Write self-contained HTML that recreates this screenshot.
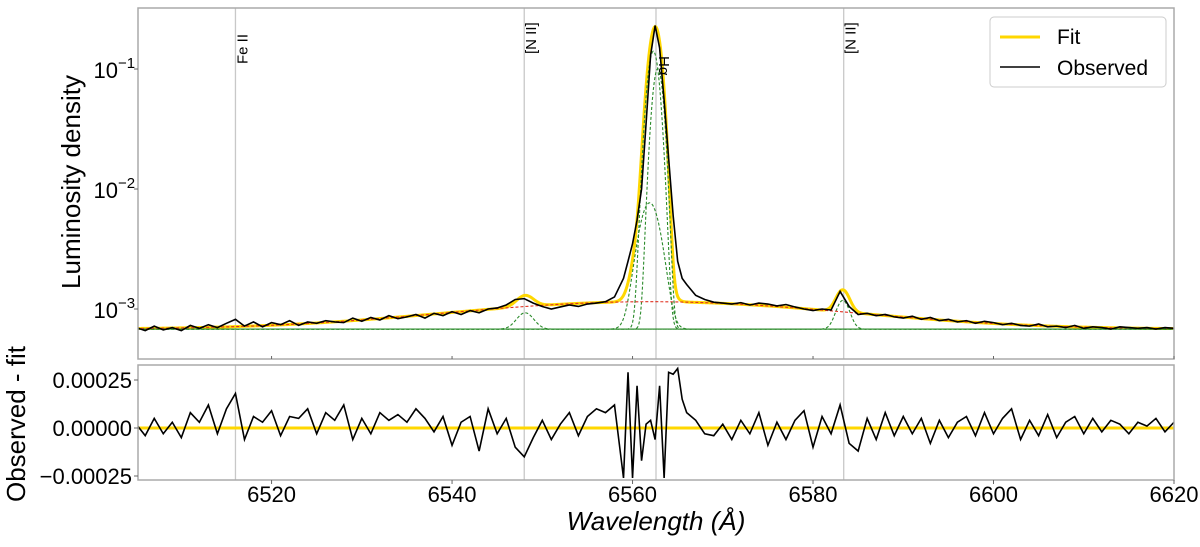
<!DOCTYPE html>
<html><head><meta charset="utf-8">
<style>
body{margin:0;background:#fff;}
svg{font-family:"Liberation Sans","DejaVu Sans",sans-serif;}
</style></head>
<body>
<svg id="chart" width="1200" height="542"></svg>
<script>
const waves=[6505,6506,6507,6508,6509,6510,6511,6512,6513,6514,6515,6516,6517,6518,6519,6520,6521,6522,6523,6524,6525,6526,6527,6528,6529,6530,6531,6532,6533,6534,6535,6536,6537,6538,6539,6540,6541,6542,6543,6544,6545,6546,6547,6548,6549,6550,6551,6552,6553,6554,6555,6556,6557,6558,6559,
6559.5,6560,6560.5,6561,6561.5,6562,6562.5,6563,6563.5,6564,6564.5,6565,6565.5,6566,
6567,6568,6569,6570,6571,6572,6573,6574,6575,6576,6577,6578,6579,6580,6581,6582,6583,6584,6585,6586,6587,6588,6589,6590,6591,6592,6593,6594,6595,6596,6597,6598,6599,6600,6601,6602,6603,6604,6605,6606,6607,6608,6609,6610,6611,6612,6613,6614,6615,6616,6617,6618,6619,6620];
const observed=[0.70,0.66,0.72,0.67,0.70,0.66,0.73,0.69,0.74,0.70, 0.76,0.82,0.72,0.78,0.71,0.77,0.74,0.80,0.73,0.78, 0.76,0.80,0.78,0.77,0.84,0.79,0.85,0.81,0.88,0.83, 0.86,0.90,0.84,0.92,0.88,0.95,0.90,0.97,0.93,1.00, 1.02,1.08,1.20,1.22,1.12,1.05,1.00,1.04,1.08,1.05, 1.10,1.12,1.15,1.26,1.80,
2.5,3.5,5.5,10,35,130,230,150,55,18,6,2.5,1.8,1.6,
1.30,1.20,1.14,1.12,1.10,1.13,1.08,1.12,1.10,1.06, 1.09,1.04,1.00,0.97,1.00,0.98,1.40,1.05,0.90,0.92, 0.88,0.90,0.86,0.84,0.87,0.82,0.85,0.80,0.82,0.78, 0.80,0.76,0.79,0.77,0.74,0.76,0.73,0.72,0.75,0.71, 0.72,0.70,0.73,0.69,0.71,0.70,0.68,0.71,0.70,0.69, 0.70,0.68,0.70,0.69];
const residuals=[2,-4,5,-3,3,-5,8,3,12,-3, 10,18,-6,6,3,9,-4,6,5,10, -3,8,4,12,-6,5,-3,8,4,7, 3,10,5,-2,6,-9,3,6,-12,10, -3,5,-10,-15,-5,4,-6,2,8,-4, 6,10,8,12,-26,
29,-26,22,-17,2,4,-6,22,-26,29,28,31,15,8,
4,-3,-4,2,-6,4,-3,8,-9,3, -6,4,9,-10,6,-3,12,-8,-12,5, -6,8,-4,6,-3,5,-8,4,-5,3, 6,-4,8,-3,5,10,-6,4,-4,7, -5,3,6,-3,5,-2,4,2,-3,3, 1,5,-2,3];
// model components: center, amplitude (1e-3), sigma
const compCenters=[6548.1,6561.9,6562.3,6562.8,6583.3,6562.0];
const compAmps=[0.25,7.0,140,100,0.5,0.47];
const compSigmas=[0.9,1.05,0.6,0.55,0.7,20];
const baseline=[0.68];
const fitX=[6505,6620];
const xTicks=[6520,6540,6560,6580,6600,6620];
const yTicksTop=[-1,-2,-3];
const yTicksBot=[0.00025,0,-0.00025];
const yTickLabelsBot=["0.00025","0.00000","\u22120.00025"];
const lineLabels=["Fe II","[N II]","H\u03b1","[N II]"];
const lineWaves=[6516.0,6548.0,6562.6,6583.4];

const svg=document.getElementById('chart');
const NS='http://www.w3.org/2000/svg';
function mk(t,a,p){const e=document.createElementNS(NS,t);for(const k in a)e.setAttribute(k,a[k]);(p||svg).appendChild(e);return e;}
const L=138,R=1174,T1=8,B1=359,T2=365,B2=480;
const xmin=6505.2,xmax=6620;
const sx=w=>L+(w-xmin)/(xmax-xmin)*(R-L);
const sy1=v=>{const lg=Math.log10(v*1e-3);return 69+(-1-lg)*120;};
const sy2=v=>428-v/0.00025*48;
const clip1=mk('clipPath',{id:'c1'});mk('rect',{x:L,y:T1,width:R-L,height:B1-T1},clip1);
const clip2=mk('clipPath',{id:'c2'});mk('rect',{x:L,y:T2,width:R-L,height:B2-T2},clip2);

function gauss(w,i){return compAmps[i]*Math.exp(-0.5*Math.pow((w-compCenters[i])/compSigmas[i],2));}
function model(w){let s=baseline[0];for(let i=0;i<compCenters.length;i++)s+=gauss(w,i);return s;}

const g1=mk('g',{'clip-path':'url(#c1)'});
lineWaves.forEach((w,i)=>{
 const l=mk('line',{x1:sx(w),x2:sx(w),y1:T1,y2:B1,stroke:'#c8c8c8','stroke-width':1.3},g1);
 
});
function pathFrom(xs,f,sy){return xs.map((w,i)=>(i?'L':'M')+sx(w).toFixed(2)+' '+sy(f(w,i)).toFixed(2)).join(' ');}
const fine=[];for(let w=fitX[0];w<=fitX[1];w+=0.1)fine.push(w);
let e=mk('path',{d:pathFrom(fine,w=>model(w),sy1),fill:'none',stroke:'#ffd700','stroke-width':3},g1);

for(let i=0;i<compCenters.length;i++){
 const col=i===5?'#e03020':'#2a8a2a';
 e=mk('path',{d:pathFrom(fine,w=>baseline[0]+gauss(w,i),sy1),fill:'none',stroke:col,'stroke-width':1.1,'stroke-dasharray':'3,2'},g1);
 
}
e=mk('line',{x1:L,x2:R,y1:sy1(baseline[0]),y2:sy1(baseline[0]),stroke:'#2a8a2a','stroke-width':1.1,'stroke-dasharray':'3,2'},g1);

e=mk('path',{d:pathFrom(waves,(w,i)=>observed[i],sy1),fill:'none',stroke:'#000','stroke-width':1.6},g1);


lineLabels.forEach((t,i)=>{
 let tx;
 if(i===2){const x=sx(lineWaves[i])+3,y=56;tx=mk('text',{x:x,y:y,'font-size':15,transform:`rotate(90 ${x} ${y})`});}
 else{const x=sx(lineWaves[i])+12,y=i===0?64:54;tx=mk('text',{x:x,y:y,'font-size':15,transform:`rotate(-90 ${x} ${y})`});}
 tx.textContent=t;
 
});

const g2=mk('g',{'clip-path':'url(#c2)'});
lineWaves.forEach(w=>mk('line',{x1:sx(w),x2:sx(w),y1:T2,y2:B2,stroke:'#c8c8c8','stroke-width':1.3},g2));
e=mk('line',{x1:L,x2:R,y1:sy2(0),y2:sy2(0),stroke:'#ffd700','stroke-width':3},g2);

e=mk('path',{d:pathFrom(waves,(w,i)=>residuals[i]*1e-5,sy2),fill:'none',stroke:'#000','stroke-width':1.6},g2);


e=mk('rect',{x:L,y:T1,width:R-L,height:B1-T1,fill:'none',stroke:'#aaa','stroke-width':1.5});

e=mk('rect',{x:L,y:T2,width:R-L,height:B2-T2,fill:'none',stroke:'#aaa','stroke-width':1.5});


xTicks.forEach(v=>{
 mk('line',{x1:sx(v),x2:sx(v),y1:B2,y2:B2+4,stroke:'#666'});
 mk('line',{x1:sx(v),x2:sx(v),y1:B1,y2:B1-3,stroke:'#666'});
 const t=mk('text',{x:sx(v),y:B2+22,'font-size':22,'text-anchor':'middle'});t.textContent=v;
 
});
yTicksTop.forEach(p=>{
 const y=sy1(Math.pow(10,p)*1e3);
 mk('line',{x1:L-4,x2:L,y1:y,y2:y,stroke:'#666'});
 const t=mk('text',{x:L-20,y:y+9,'font-size':22,'text-anchor':'end'});t.textContent='10';
 
 const s=mk('text',{x:L-20,y:y-1,'font-size':15});s.textContent='\u2212'+(-p);
});
yTicksBot.forEach((v,i)=>{
 const y=sy2(v);
 mk('line',{x1:L-4,x2:L,y1:y,y2:y,stroke:'#666'});
 const t=mk('text',{x:L-6,y:y+8,'font-size':22,'text-anchor':'end'});t.textContent=yTickLabelsBot[i];
 
});
e=mk('text',{x:80,y:182,'font-size':26,'text-anchor':'middle',transform:'rotate(-90 80 182)'});e.textContent='Luminosity density';

e=mk('text',{x:25,y:424,'font-size':26,'text-anchor':'middle',transform:'rotate(-90 25 424)'});e.textContent='Observed - fit';

e=mk('text',{x:656,y:530,'font-size':26,'text-anchor':'middle','font-style':'italic'});e.textContent='Wavelength (\u00c5)';

const lg=mk('g',{});

mk('rect',{x:990,y:17,width:176,height:70,rx:4,fill:'#fff',stroke:'#ccc'},lg);
mk('line',{x1:1000,x2:1040,y1:37,y2:37,stroke:'#ffd700','stroke-width':3},lg);
mk('line',{x1:1000,x2:1040,y1:67,y2:67,stroke:'#000','stroke-width':1.5},lg);
e=mk('text',{x:1057,y:44,'font-size':21},lg);e.textContent='Fit';

e=mk('text',{x:1057,y:75,'font-size':21},lg);e.textContent='Observed';

</script>
</body></html>
